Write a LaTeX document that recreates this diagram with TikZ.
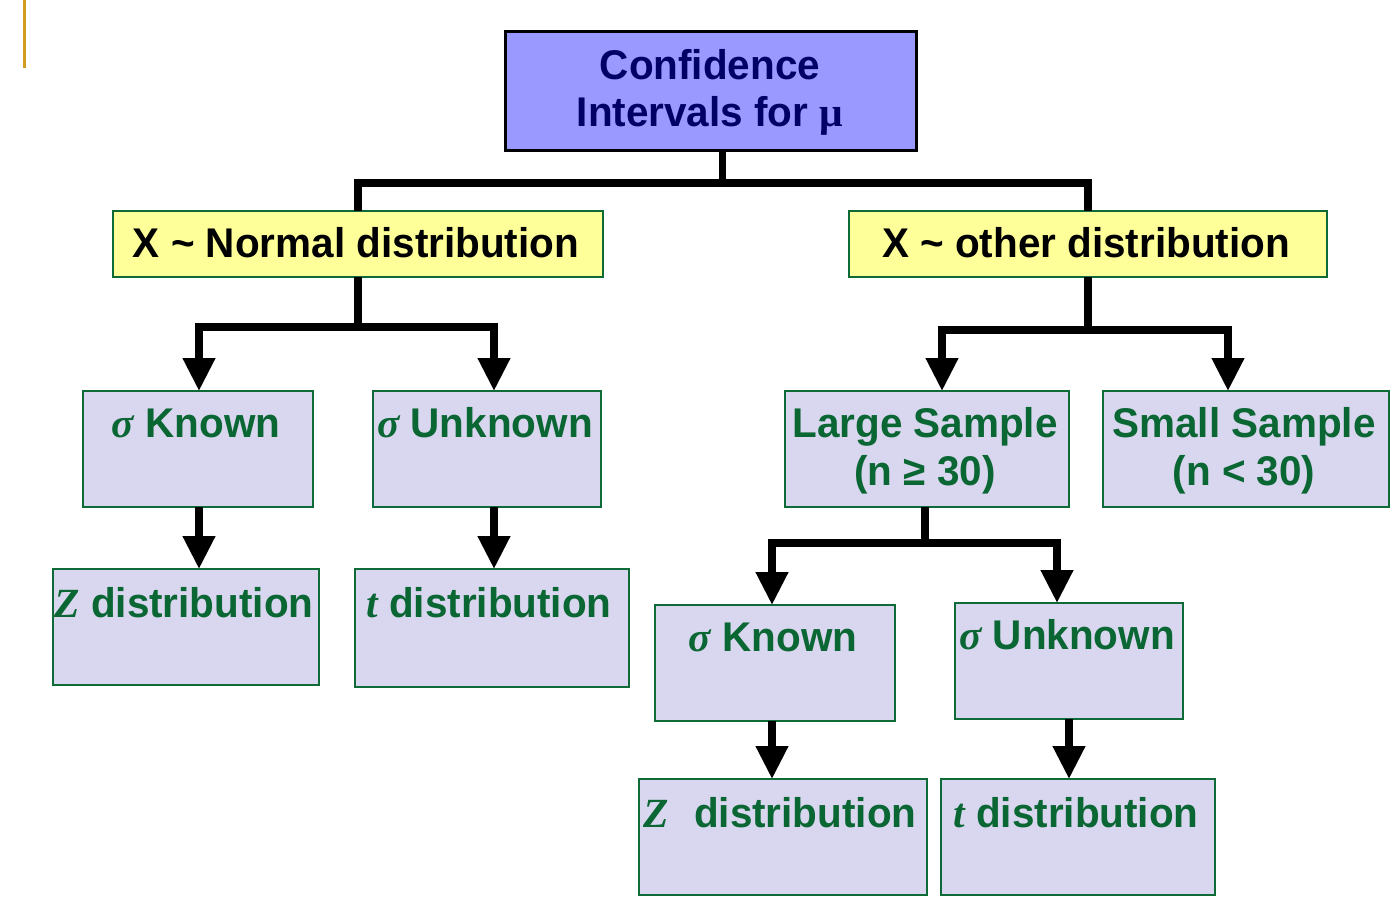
\documentclass[tikz,border=0pt]{standalone}
\usepackage{fontspec}
\setmainfont{Liberation Sans}[FakeStretch=0.975]
\newfontfamily\symfont{Liberation Serif}
\usetikzlibrary{arrows.meta}
\definecolor{topfill}{HTML}{9999FF}
\definecolor{navy}{HTML}{000066}
\definecolor{yel}{HTML}{FFFF99}
\definecolor{lav}{HTML}{D9D7EF}
\definecolor{bgreen}{HTML}{0E6B38}
\definecolor{tgreen}{HTML}{0A6633}
\definecolor{gold}{HTML}{D09C22}
\newcommand{\gsym}[1]{{\symfont\bfseries\itshape #1}}
\tikzset{
  conn/.style={line width=7.5pt},
  arr/.style={conn, -{Triangle[width=31pt,length=33pt]}},
  boxbase/.style={inner sep=0pt, outer sep=0pt},
  topbox/.style={boxbase, draw=black, line width=3pt, fill=topfill},
  yelbox/.style={boxbase, draw=bgreen, line width=2pt, fill=yel},
  lavbox/.style={boxbase, draw=bgreen, line width=2pt, fill=lav},
  lbl/.style={anchor=base, inner sep=0pt, text=tgreen, font=\bfseries\fontsize{41.5}{48}\selectfont},
  toplbl/.style={lbl, text=navy},
  blklbl/.style={lbl, text=black}
}
\begin{document}
\begin{tikzpicture}[x=1pt,y=-1pt]
\useasboundingbox[fill=white] (0,0) rectangle (1400,918);
% gold mark
\coordinate (g1) at (24,0);
\coordinate (g2) at (24,68);
\draw[gold, line width=3pt] (g1) -- (g2);

% boxes
\node[topbox, minimum width=411pt, minimum height=119pt] (top) at (710.5,90.5) {};
\node[yelbox, minimum width=490pt, minimum height=66pt] (normal) at (358,244) {};
\node[yelbox, minimum width=478pt, minimum height=66pt] (other) at (1088,244) {};
\node[lavbox, minimum width=230pt, minimum height=116pt] (sk1) at (198,449) {};
\node[lavbox, minimum width=228pt, minimum height=116pt] (su1) at (487,449) {};
\node[lavbox, minimum width=266pt, minimum height=116pt] (z1) at (186,627) {};
\node[lavbox, minimum width=274pt, minimum height=118pt] (t1) at (492,628) {};
\node[lavbox, minimum width=284pt, minimum height=116pt] (large) at (927,449) {};
\node[lavbox, minimum width=286pt, minimum height=116pt] (small) at (1246,449) {};
\node[lavbox, minimum width=240pt, minimum height=116pt] (sk2) at (775,663) {};
\node[lavbox, minimum width=228pt, minimum height=116pt] (su2) at (1069,661) {};
\node[lavbox, minimum width=288pt, minimum height=116pt] (z2) at (783,837) {};
\node[lavbox, minimum width=274pt, minimum height=116pt] (t2) at (1078,837) {};

% labels
\node[toplbl] (topA) at (710,79) {Confidence};
\node[toplbl] (topB) at (710,126) {Intervals for {\symfont\bfseries μ}};
\node[blklbl] (normalL) at (356,257) {X \char`~\ Normal distribution};
\node[blklbl] (otherL) at (1086,257) {X \char`~\ other distribution};
\node[lbl] (sk1L) at (196,437) {\gsym{σ} Known};
\node[lbl] (su1L) at (485,437) {\gsym{σ} Unknown};
\node[lbl] (z1L) at (184,617) {\gsym{Z} distribution};
\node[lbl] (t1L) at (489,617) {\gsym{t} distribution};
\node[lbl] (largeA) at (925,437) {Large Sample};
\node[lbl] (largeB) at (925,485) {(n ≥ 30)};
\node[lbl] (smallA) at (1244,437) {Small Sample};
\node[lbl] (smallB) at (1244,485) {(n < 30)};
\node[lbl] (sk2L) at (773,651) {\gsym{σ} Known};
\node[lbl] (su2L) at (1067,649) {\gsym{σ} Unknown};
\node[lbl] (z2L) at (780,827) {\gsym{Z}\hspace{14pt} distribution};
\node[lbl] (t2L) at (1076,827) {\gsym{t} distribution};

% connectors level 1
\draw[conn] ([xshift=12pt]top.south) -- ++(0,33) -| (normal.north);
\draw[conn] ([xshift=12pt]top.south) -- ++(0,33) -| (other.north);
% left level 2
\draw[arr] (normal.south) -- ++(0,50) -| ([xshift=1pt]sk1.north);
\draw[arr] (normal.south) -- ++(0,50) -| ([xshift=7pt]su1.north);
% right level 2
\draw[arr] (other.south) -- ++(0,53) -| ([xshift=15pt]large.north);
\draw[arr] (other.south) -- ++(0,53) -| ([xshift=-18pt]small.north);
% left level 3
\draw[arr] ([xshift=1pt]sk1.south) -- ([xshift=1pt]sk1.south |- z1.north);
\draw[arr] ([xshift=7pt]su1.south) -- ([xshift=7pt]su1.south |- t1.north);
% large sample split
\draw[arr] ([xshift=-2pt]large.south) -- ++(0,36) -| ([xshift=-3pt]sk2.north);
\draw[arr] ([xshift=-2pt]large.south) -- ++(0,36) -| ([xshift=-12pt]su2.north);
% bottom level
\draw[arr] ([xshift=-3pt]sk2.south) -- ([xshift=-3pt]sk2.south |- z2.north);
\draw[arr] (su2.south) -- (su2.south |- t2.north);
\end{tikzpicture}
\end{document}
